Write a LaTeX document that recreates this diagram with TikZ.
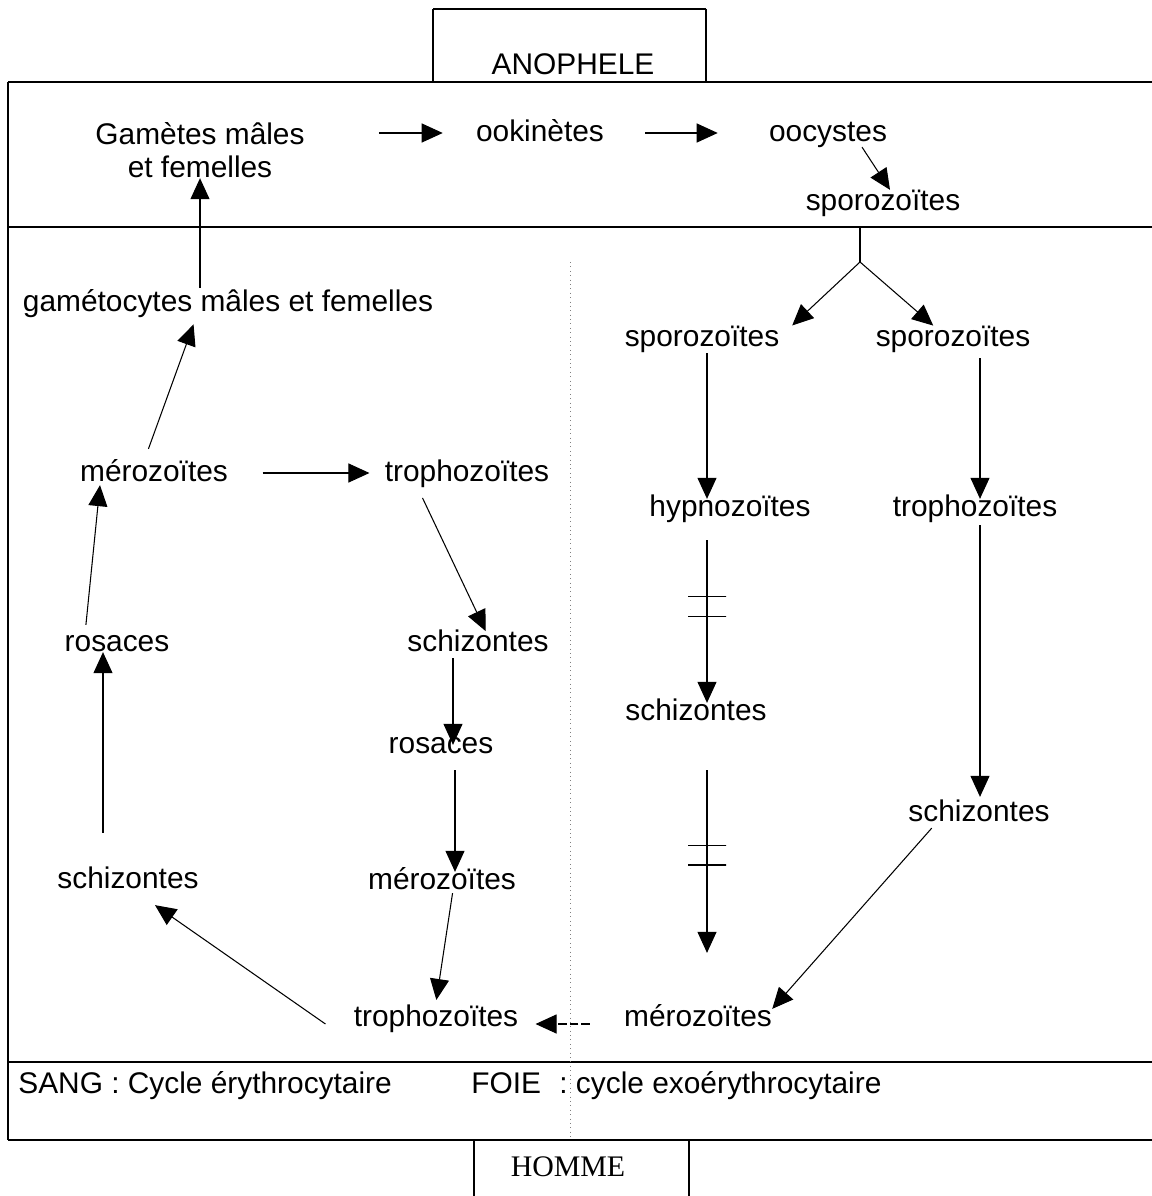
\documentclass[tikz,border=0pt]{standalone}
\usepackage{fontspec}
\setmainfont{Liberation Sans}
\newfontfamily\hommefont{Liberation Serif}
\usetikzlibrary{calc,arrows.meta}

\begin{document}
\begin{tikzpicture}[x=0.02cm,y=-0.02cm,
    font=\fontsize{17}{19}\selectfont,
    lbl/.style={inner sep=0pt, text height=1em, text depth=0em},
    arr/.style={line width=0.6pt, -{Triangle[length=4.2mm,width=3.8mm]}},
    frameline/.style={line width=1.1pt},
    brk/.style={draw, line width=0.6pt, minimum width=7.6mm, minimum height=0pt, inner sep=0pt, outer sep=0pt}]
    \useasboundingbox (0,0) rectangle (1152,1196);

    % key values
    \pgfmathsetmacro{\xl}{8}
    \pgfmathsetmacro{\xr}{1152}
    \pgfmathsetmacro{\xsep}{570}

    % frame
    \draw[line width=0.6pt] (433,82) -- (433,9);
    \draw[frameline] (433,9) -- (706,9);
    \draw[line width=0.6pt] (706,9) -- (706,82);
    \draw[frameline] (\xl,82) -- (\xr,82);
    \draw[frameline] (\xl,227) -- (\xr,227);
    \draw[frameline] (\xl,1062) -- (\xr,1062);
    \draw[frameline] (\xl,1140) -- (\xr,1140);
    \draw[line width=0.6pt] (\xl,82) -- (\xl,1140);
    \draw[line width=0.6pt] (474,1140) -- (474,1196);
    \draw[line width=0.6pt] (689,1140) -- (689,1196);
    \draw[gray, dotted, line width=0.5pt] (\xsep,262) -- (\xsep,1140);
    \coordinate (midl) at (\xl,227);

    % hosts
    \node[lbl] (anoph) at (573,66) {ANOPHELE};
    \node[lbl] (homme) at (568,1168) {\hommefont HOMME};
    \node[lbl, anchor=west] (sang) at (18,1085) {SANG : Cycle érythrocytaire};
    \node[lbl, anchor=west] (foie) at (471,1085) {FOIE\hspace{2mm} : cycle exoérythrocytaire};

    % mosquito stages
    \node[align=center, inner sep=0pt] (gam) at (200,150) {Gamètes mâles\\et femelles};
    \node[lbl] (ooki) at (540,133) {ookinètes};
    \node[lbl] (ooc) at (828,133) {oocystes};
    \node[lbl] (spoT) at (883,202) {sporozoïtes};

    % blood stages
    \node[lbl] (gamet) at (228,303) {gamétocytes mâles et femelles};
    \node[lbl] (merL) at (154,473) {mérozoïtes};
    \node[lbl] (trophoL) at (467,473) {trophozoïtes};
    \node[lbl] (rosL) at (117,643) {rosaces};
    \node[lbl] (schizC) at (478,643) {schizontes};
    \node[lbl] (rosC) at (441,745) {rosaces};
    \node[lbl] (schizL) at (128,880) {schizontes};
    \node[lbl] (merC) at (442,881) {mérozoïtes};
    \node[lbl] (trophoB) at (436,1018) {trophozoïtes};

    % liver stages
    \node[lbl] (spoL) at (702,338) {sporozoïtes};
    \node[lbl] (spoR) at (953,338) {sporozoïtes};
    \node[lbl] (hypno) at (730,508) {hypnozoïtes};
    \node[lbl] (trophoR) at (975,508) {trophozoïtes};
    \node[lbl] (schizH) at (696,712) {schizontes};
    \node[lbl] (schizR) at (979,813) {schizontes};
    \node[lbl] (merR) at (698,1018) {mérozoïtes};

    % mosquito arrows
    \draw[arr, shorten <=14.8mm, shorten >=6.6mm] (gam.east |- ooki.west) -- (ooki.west);
    \draw[arr, shorten <=8.2mm, shorten >=10.2mm] (ooki.east) -- (ooc.west);
    \draw[arr] ($(ooc.south)+(34,5)$) -- ($(spoT.north)+(7,-3)$);

    % fork into the liver
    \coordinate (fork) at (860,262);
    \draw[line width=0.6pt] (fork |- midl) -- (fork);
    \draw[arr, shorten >=1mm] (fork) -- ($(spoL.north east)+(9,0)$);
    \draw[arr, shorten >=1mm] (fork) -- ($(spoR.north)+(-16,0)$);

    % liver arrows
    \draw[arr, shorten <=1.2mm] ($(spoL.south)+(5,0)$) -- ($(spoL.south |- hypno.north)+(5,0)$);
    \draw[arr, shorten <=2.2mm] ($(spoR.south)+(27,0)$) -- ($(spoR.south |- trophoR.north)+(27,0)$);
    \draw[arr, shorten <=4.6mm] ($(hypno.south)+(-23,0)$)
        -- node[brk, pos=0.426] {} node[brk, pos=0.534] {}
        ($(hypno.south |- schizH.north)+(-23,0)$);
    \draw[arr, shorten <=9.8mm, shorten >=11.2mm] ($(schizH.south)+(11,0)$)
        -- node[brk, pos=0.432] {} node[brk, pos=0.5] {}
        ($(schizH.south |- merR.north)+(11,0)$);
    \draw[arr, shorten <=1.6mm, shorten >=1.4mm] ($(trophoR.south)+(5,0)$) -- ($(trophoR.south |- schizR.north)+(5,0)$);
    \draw[arr, shorten <=1.6mm] ($(schizR.south)+(-42,0)$) -- (merR.north east);
    \draw[arr, dash pattern=on 5pt off 1.5pt, shorten <=6.8mm, shorten >=3.4mm] ($(merR.west)+(0,6)$) -- ($(trophoB.east |- merR.west)+(0,6)$);

    % blood arrows
    \draw[arr] ($(trophoB.west)+(-28,6)$) -- ($(schizL.south)+(27,16)$);
    \draw[arr, shorten <=7.6mm] ($(schizL.north)+(-25,0)$) -- ($(schizL.north |- rosL.south)+(-25,0)$);
    \draw[arr, shorten <=1.8mm] ($(rosL.north)+(-32,0)$) -- ($(merL.south)+(-54,3)$);
    \draw[arr, shorten <=3.2mm, shorten >=2.6mm] ($(merL.north)+(-11,0)$) -- ($(gamet.south)+(-30,0)$);
    \draw[arr, shorten <=1.2mm] (gam.south |- gamet.north) -- (gam.south);
    \draw[arr, shorten <=6.9mm, shorten >=3mm] (merL.east) -- (trophoL.west);
    \draw[arr, shorten <=3.5mm, shorten >=0.6mm] ($(trophoL.south)+(-52,0)$) -- ($(schizC.north)+(9,0)$);
    \draw[arr, shorten <=1.2mm, shorten >=-1.8mm] ($(schizC.south)+(-25,0)$) -- ($(schizC.south |- rosC.north)+(-25,0)$);
    \draw[arr, shorten <=3.2mm] ($(rosC.south)+(14,0)$) -- ($(rosC.south |- merC.north)+(14,0)$);
    \draw[arr, shorten <=0.6mm, shorten >=1.8mm] ($(merC.south)+(11,0)$) -- ($(trophoB.north)+(-1,0)$);
\end{tikzpicture}
\end{document}
